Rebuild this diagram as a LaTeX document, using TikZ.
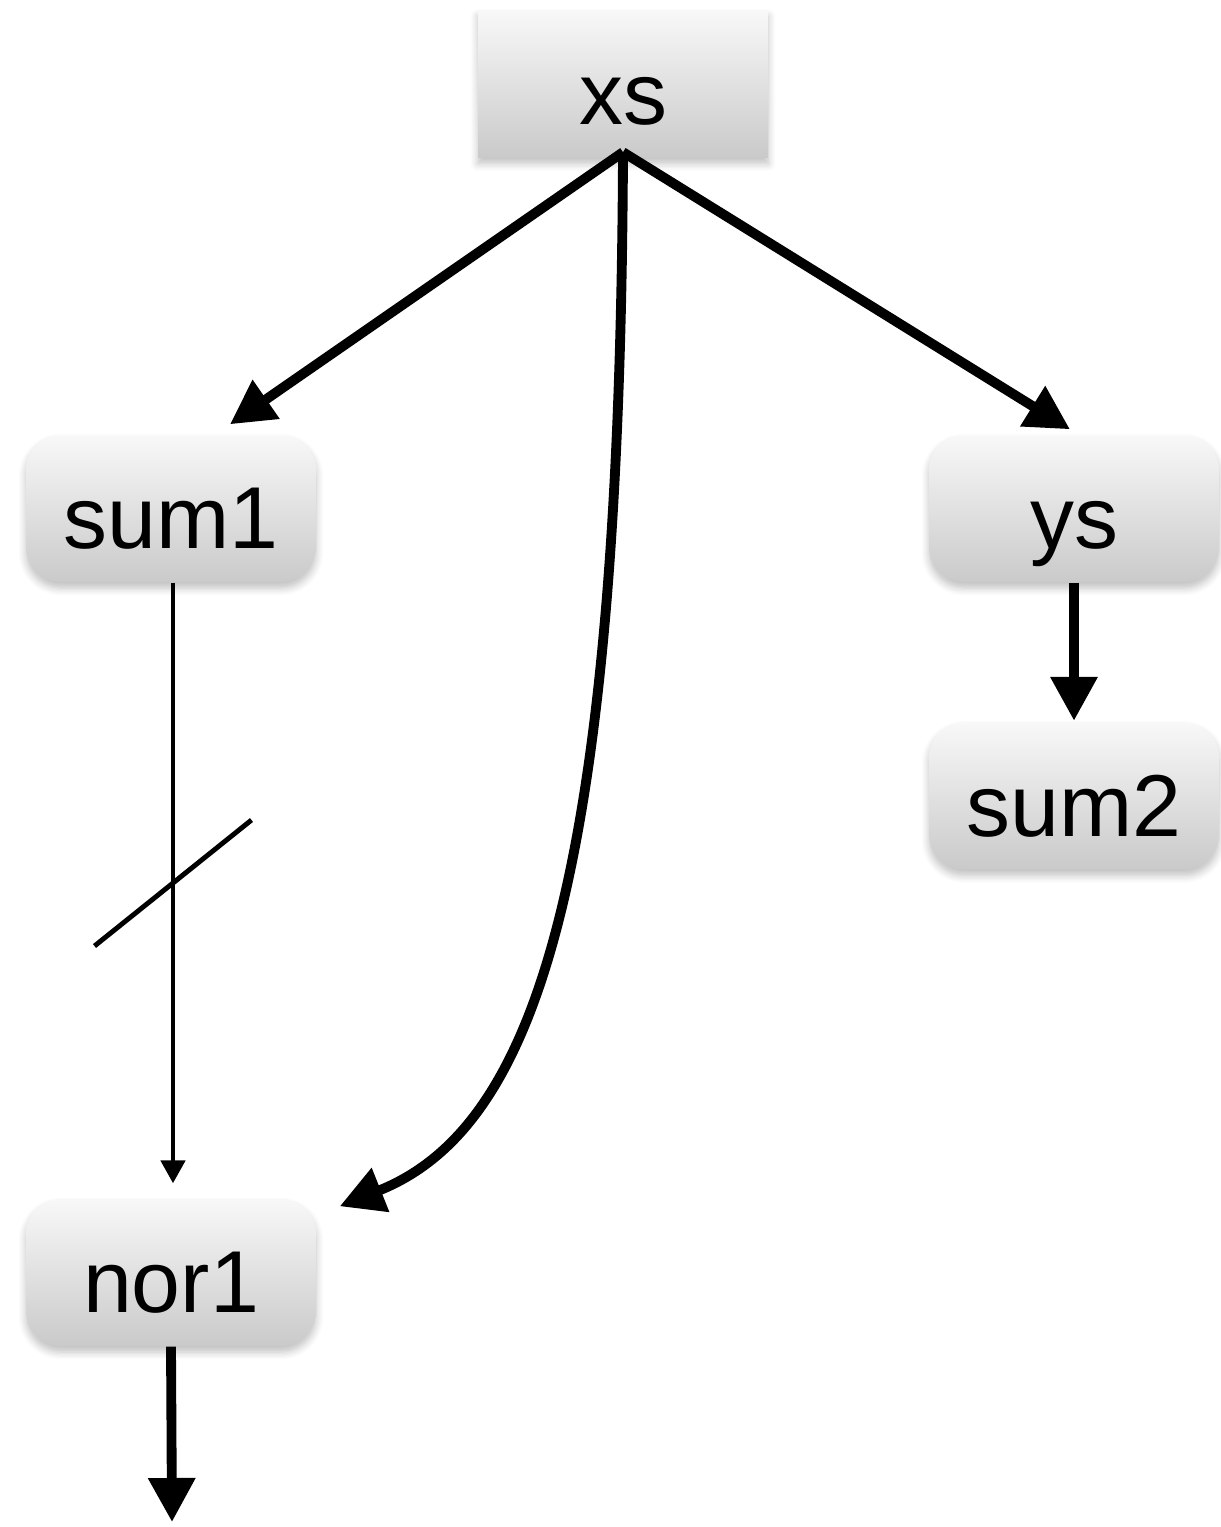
\documentclass[tikz,border=0pt]{standalone}
\usepackage{fontspec}
\setmainfont{Liberation Sans}
\usetikzlibrary{arrows.meta,shadows.blur}
\definecolor{boxtop}{RGB}{248,248,248}
\definecolor{boxbot}{RGB}{202,202,202}
\tikzset{
  box/.style={top color=boxtop,bottom color=boxbot,minimum width=2.9cm,minimum height=1.47cm,
    inner sep=0pt,text height=0.84cm,text depth=0.04cm,font=\fontsize{25}{30}\selectfont,
    blur shadow={shadow blur steps=6,shadow xshift=0pt,shadow yshift=-0.6mm,shadow opacity=25}},
  rbox/.style={box,rounded corners=0.35cm},
  arr/.style={line width=2.8pt,-{Triangle[length=4.4mm,width=4.5mm]}},
  thinarr/.style={line width=1.4pt,-{Triangle[length=2.3mm,width=2.4mm]}}
}
\begin{document}
\begin{tikzpicture}
\useasboundingbox (0,0) rectangle (12.2,-15.27);
\node[box](xs) at (6.23,-0.84){xs};
\node[rbox](sum1) at (1.71,-5.085){sum1};
\node[rbox](ys) at (10.74,-5.085){ys};
\node[rbox](sum2) at (10.74,-7.96){sum2};
\node[rbox](nor1) at (1.71,-12.725){nor1};
\coordinate(out) at (1.72,-15.22);
\draw[arr] ([yshift=0.6mm]xs.south)--([xshift=5.9mm,yshift=1mm]sum1.north);
\draw[arr] ([yshift=0.6mm]xs.south)--([xshift=-0.4mm,yshift=0.5mm]ys.north);
\draw[arr] ([yshift=0.6mm]xs.south) .. controls (6.2,-9) and (5.3,-11.3) .. ([xshift=2.3mm,yshift=-0.8mm]nor1.north east);
\draw[thinarr] ([xshift=0.2mm]sum1.south)--([xshift=0.2mm,yshift=1.5mm]nor1.north)coordinate[pos=0.5](cut);
\draw[line width=1.4pt] (cut)++(-0.785,-0.63)--++(1.57,1.26);
\draw[arr] (ys.south)--([yshift=0.1mm]sum2.north);
\draw[arr] (nor1.south)--(out);
\end{tikzpicture}
\end{document}
